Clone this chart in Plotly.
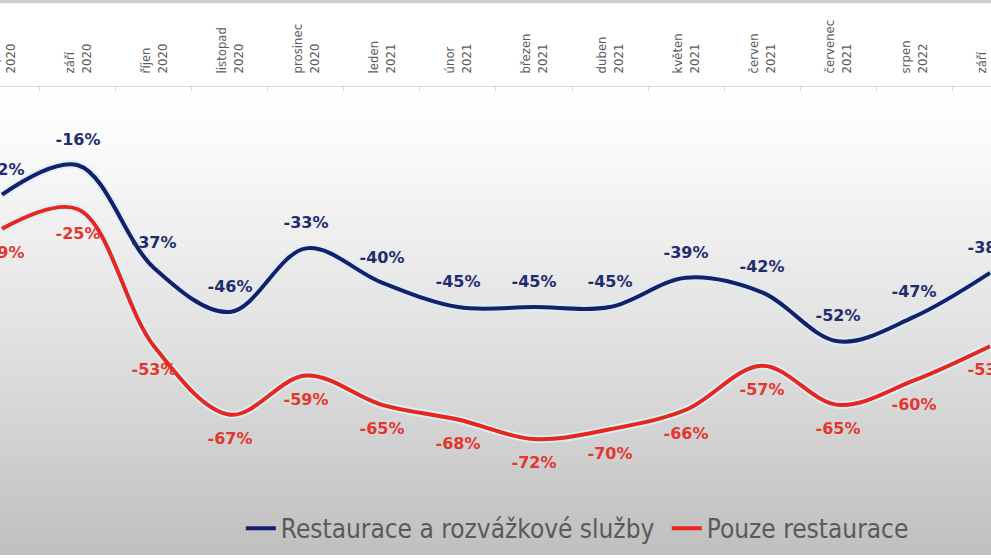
import plotly.graph_objects as go

# kategorie (měsíce) a hodnoty obou řad v %
months = ["srpen<br>2020", "září<br>2020", "říjen<br>2020", "listopad<br>2020",
          "prosinec<br>2020", "leden<br>2021", "únor<br>2021", "březen<br>2021",
          "duben<br>2021", "květen<br>2021", "červen<br>2021", "červenec<br>2021",
          "srpen<br>2022", "září<br>2022"]
restaurace_rozvoz = [-22, -16, -37, -46, -33, -40, -45, -45, -45, -39, -42, -52, -47, -38]
pouze_restaurace = [-29, -25, -53, -67, -59, -65, -68, -72, -70, -66, -57, -65, -60, -53]

BLUE = "#16206a"
RED = "#e8251f"
GLOW = "rgba(215,240,245,0.9)"

fig = go.Figure()

# světlý lem pod čarami
for vals in (restaurace_rozvoz, pouze_restaurace):
    fig.add_trace(go.Scatter(
        x=months, y=vals, mode="lines",
        line=dict(color=GLOW, width=8, shape="spline", smoothing=1.0),
        showlegend=False, hoverinfo="skip"
    ))

fig.add_trace(go.Scatter(
    x=months, y=restaurace_rozvoz,
    mode="lines+markers+text",
    name="Restaurace a rozvážkové služby\u00a0",
    line=dict(color=BLUE, width=4, shape="spline", smoothing=1.0),
    marker=dict(size=24, color="rgba(0,0,0,0)"),
    text=[f"{v}%" for v in restaurace_rozvoz],
    textposition="top center",
    textfont=dict(family="DejaVu Sans", size=16, color="#1f2d6e", weight="bold"),
))
fig.add_trace(go.Scatter(
    x=months, y=pouze_restaurace,
    mode="lines+markers+text",
    name="Pouze restaurace",
    line=dict(color=RED, width=4, shape="spline", smoothing=1.0),
    marker=dict(size=26, color="rgba(0,0,0,0)"),
    text=[f"{v}%" for v in pouze_restaurace],
    textposition="bottom center",
    textfont=dict(family="DejaVu Sans", size=16, color="#e2372f", weight="bold"),
))

# šedý přechod pozadí (bílá nahoře -> šedá dole)
shapes = []
n_bands = 70
for k in range(n_bands):
    t = (k + 0.5) / n_bands
    g = int(round(255 - 64 * t ** 1.2))
    shapes.append(dict(
        type="rect", xref="paper", yref="paper", layer="below",
        x0=0, x1=1, y0=1 - (k + 1) / n_bands, y1=1 - k / n_bands + 0.002,
        line=dict(width=0), fillcolor=f"rgb({g},{g},{g})"
    ))
# šedý proužek u horního okraje
shapes.append(dict(type="rect", xref="paper", yref="paper", layer="below",
                   x0=0, x1=1, y0=1.179, y1=1.19, line=dict(width=0),
                   fillcolor="#cdcdcd"))

fig.update_layout(
    width=991, height=558,
    margin=dict(l=0, r=0, t=87, b=3, autoexpand=False),
    paper_bgcolor="white",
    plot_bgcolor="white",
    shapes=shapes,
    showlegend=True,
    legend=dict(
        orientation="h", x=0.243, y=0.057, xanchor="left", yanchor="middle",
        font=dict(family="DejaVu Sans Condensed", size=26, color="#5a5a5a"),
        bgcolor="rgba(0,0,0,0)", itemwidth=30,
    ),
)

fig.update_xaxes(
    type="category", side="top", range=[-0.026, 13.013], automargin=False,
    tickangle=-90, tickson="boundaries", ticks="inside", ticklen=4,
    ticklabelstandoff=10,
    tickcolor="#d9d9d9", showline=True, linecolor="#d9d9d9", linewidth=1,
    showgrid=False,
    tickfont=dict(family="DejaVu Sans Condensed", size=13, color="#595959"),
)
fig.update_yaxes(range=[-95.7, 0], visible=False, showgrid=False,
                 zeroline=False, automargin=False)

# bez výchozího okraje stránky a bez lišty nástrojů
fig.write_html("out.html", config={"displayModeBar": False},
               post_script="document.body.style.margin='0';")
